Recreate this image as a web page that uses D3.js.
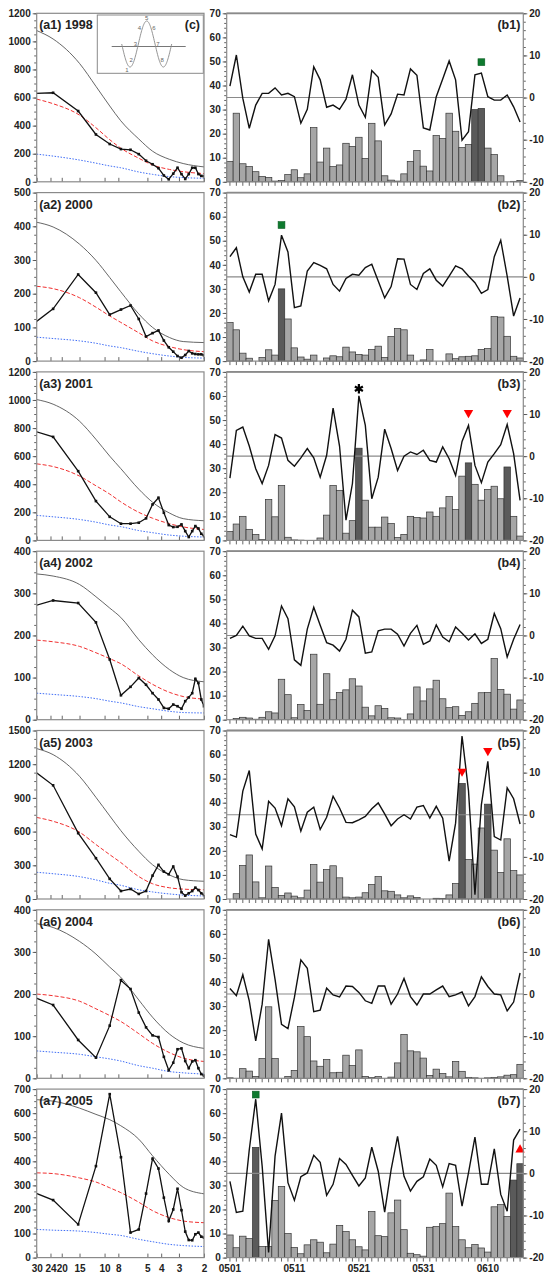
<!DOCTYPE html>
<html>
<head>
<meta charset="utf-8">
<script src="https://cdn.jsdelivr.net/npm/d3@7"></script>
<style>
body { margin: 0; background: #fff; }
svg text { font-family: "Liberation Sans", Arial, sans-serif; font-weight: bold; fill: #222; }
</style>
</head>
<body>
<div id="container"><svg></svg></div>
<script>
// ---- data ----
const years = ['1998', '2000', '2001', '2002', '2003', '2004', '2005'];
const specMax = [1200, 500, 1200, 400, 1500, 400, 700];
const specStep = [200, 100, 200, 100, 300, 100, 100];
const periodTicks = [30, 24, 20, 15, 10, 8, 5, 4, 3, 2];
// periods of the spectral estimates (46-day record)
const periods = [46, 23, 15.33, 11.5, 9.2, 7.67, 6.57, 5.75, 5.11, 4.6, 4.18, 3.83, 3.54, 3.29, 3.07, 2.88, 2.71, 2.56, 2.42, 2.3, 2.19, 2.09, 2];
const curvePeriods = [30, 23, 15, 11.5, 9.2, 7.7, 5.75, 4.6, 3.5, 2.8, 2];

const power1998 = [625, 634, 504, 337, 269, 233, 228, 197, 150, 125, 97, 45, 18, 58, 100, 55, 20, 55, 100, 100, 55, 42, 40];
const power2000 = [58, 155, 257, 203, 138, 153, 165, 125, 73, 83, 91, 61, 41, 28, 15, 10, 18, 30, 23, 21, 20, 20, 17];
const power2001 = [831, 737, 493, 280, 168, 119, 119, 126, 157, 256, 304, 197, 109, 95, 97, 114, 66, 24, 66, 102, 85, 47, 31];
const power2002 = [254, 283, 277, 231, 143, 58, 78, 99, 83, 63, 48, 28, 26, 36, 32, 26, 44, 53, 63, 97, 87, 48, 32];
const power2003 = [1300, 1012, 586, 363, 179, 71, 89, 45, 71, 208, 304, 244, 220, 289, 199, 60, 30, 51, 71, 101, 80, 51, 36];
const power2004 = [216, 174, 91, 49, 125, 233, 212, 156, 121, 102, 98, 51, 19, 37, 69, 71, 41, 24, 40, 43, 24, 10, 6];
const power2005 = [310, 239, 138, 380, 679, 417, 104, 117, 266, 411, 370, 249, 152, 200, 286, 197, 108, 73, 72, 97, 104, 87, 83];

const upper1998 = [1077, 1017, 843, 680, 540, 435, 305, 218, 160, 130, 106];
const upper2000 = [412, 398, 347, 299, 248, 206, 140, 100, 70, 58, 55];
const upper2001 = [1003, 970, 849, 720, 600, 512, 365, 272, 195, 155, 140];
const upper2002 = [346, 341, 321, 292, 265, 243, 190, 154, 119, 100, 90];
const upper2003 = [1339, 1285, 1092, 905, 740, 610, 425, 305, 214, 172, 158];
const upper2004 = [367, 358, 325, 295, 264, 240, 186, 145, 105, 84, 71];
const upper2005 = [656, 650, 621, 595, 573, 548, 492, 423, 345, 292, 265];

const red1998 = [589, 556, 475, 385, 300, 240, 168, 120, 88, 72, 58];
const red2000 = [222, 215, 188, 160, 134, 115, 84, 60, 43, 34, 28];
const red2001 = [545, 526, 458, 389, 330, 275, 200, 158, 119, 96, 78];
const red2002 = [189, 185, 174, 159, 145, 133, 104, 84, 65, 55, 49];
const red2003 = [726, 692, 595, 485, 395, 325, 200, 136, 100, 88, 82];
const red2004 = [200, 196, 183, 165, 149, 135, 106, 83, 61, 48, 40];
const red2005 = [352, 349, 331, 314, 290, 270, 230, 195, 166, 152, 145];

const blue1998 = [197, 183, 155, 133, 113, 100, 70, 53, 37, 30, 25];
const blue2000 = [71, 67, 60, 53, 45, 40, 29, 22, 15, 11, 9];
const blue2001 = [178, 168, 149, 130, 110, 98, 70, 55, 38, 30, 24];
const blue2002 = [63, 60, 55, 50, 44, 40, 31, 26, 20, 17, 16];
const blue2003 = [238, 225, 199, 170, 140, 122, 82, 63, 45, 35, 27];
const blue2004 = [65, 62, 57, 51, 46, 41, 30, 24, 16, 13, 10];
const blue2005 = [117, 114, 110, 104, 97, 92, 76, 66, 55, 50, 46];

const days = ['0501', '0502', '0503', '0504', '0505', '0506', '0507', '0508', '0509', '0510',
    '0511', '0512', '0513', '0514', '0515', '0516', '0517', '0518', '0519', '0520',
    '0521', '0522', '0523', '0524', '0525', '0526', '0527', '0528', '0529', '0530',
    '0531', '0601', '0602', '0603', '0604', '0605', '0606', '0607', '0608', '0609',
    '0610', '0611', '0612', '0613', '0614', '0615'];
const dayLabels = ['0501', '0511', '0521', '0531', '0610'];

const rain1998 = [8.5, 28.5, 7.5, 6.3, 4.2, 2.2, 1.8, 0.3, 0.5, 3, 5, 1.7, 3.3, 22.5, 8.2, 14, 6.3, 7, 16, 14.7, 18.5, 9.7, 24.3, 17, 2.5, 0.7, 0.3, 3.3, 8.5, 13, 6.5, 4.5, 19.2, 18, 28.5, 21, 14.2, 15.5, 30, 30.5, 14, 11.3, 2.5, 0, 0.2, 0.5];
const rain2000 = [16, 13, 3.3, 1.2, 0, 1.5, 4.7, 2.5, 30, 17.5, 5.5, 1.7, 0.8, 2.5, 0, 1.3, 2.2, 1.8, 5.8, 3.8, 2.8, 2.5, 4.8, 6.2, 1.5, 10.2, 13.5, 13, 2.5, 0, 0.5, 4.8, 0, 0, 3, 1, 1.8, 2, 2.2, 4.8, 5.2, 18.5, 18.3, 10.3, 2, 1.3];
const rain2001 = [3.7, 6.8, 10, 4.6, 2.5, 0.4, 17, 9.8, 22.8, 1.3, 0.2, 0.1, 0, 0, 1, 10.5, 22.8, 20.8, 3, 8.2, 38.3, 16.7, 5.5, 5.5, 9.7, 7, 1.2, 2.5, 10, 9.5, 9.3, 11.8, 10, 13.5, 18.2, 12.8, 26.7, 32.2, 23.3, 16.7, 21.2, 22.5, 17.3, 30.5, 10, 1.8];
const rain2002 = [0, 0.5, 1, 0.7, 0.2, 1, 3.3, 2.8, 16.8, 10.4, 0.8, 6.3, 3.8, 27.2, 6.4, 19.1, 8.3, 11.3, 12.4, 17, 14, 5.2, 1.6, 5.8, 4.7, 0.8, 0.7, 0, 2.4, 13.6, 7.8, 12.8, 16.4, 8.7, 5, 5.4, 1.8, 3.3, 6.8, 11.2, 11.3, 25.4, 12.5, 10.6, 4.4, 8.2];
const rain2003 = [0, 2.2, 13.9, 18.3, 7.1, 0.5, 13.7, 4.8, 1.5, 2.5, 1.2, 0.5, 3.7, 14.3, 7, 12.2, 13.8, 8.8, 0.8, 0.5, 0.8, 2.6, 6, 9.3, 3.4, 3.2, 1.7, 0.5, 1.3, 0.6, 0, 0, 0.3, 0.2, 1.7, 6.4, 48, 16.4, 14.5, 29.5, 39.4, 20.3, 11, 25, 11.8, 10];
const rain2004 = [0.2, 0, 4, 3, 0.8, 8.2, 29.7, 8.2, 0, 0.8, 3.3, 21.5, 17.3, 7.2, 5, 7.8, 2.3, 2.5, 9.6, 5.3, 11.8, 0.8, 0.3, 0.7, 0, 0.5, 6.4, 18.2, 11.4, 11, 8.4, 1.2, 3.8, 2, 0.6, 7, 2.9, 0.4, 0.2, 0, 0.2, 0.4, 0.6, 1.3, 1.5, 5.8];
const rain2005 = [9.4, 4.1, 8.9, 7.9, 45.8, 4.6, 4.6, 23.7, 29.6, 10, 4.2, 1.6, 5.3, 7.4, 6.4, 2, 5.6, 13.4, 10.8, 7.4, 4.5, 3.2, 19.1, 9.1, 8.7, 18.6, 23.9, 11.6, 1.8, 1.2, 0.6, 12.6, 12.9, 14.1, 26.8, 12.9, 7.4, 4.1, 5.4, 4.0, 2.3, 21.1, 22, 17.1, 32.2, 39];

const idx1998 = [2.7, 10.1, -0.2, -7.3, -1.8, 1.0, 1.0, 2.3, 0.6, 1.0, 0.2, -6.1, -2.8, 7.3, 4.2, -2.3, -1.8, -2.8, -0.4, 5.4, -1.8, -4.7, 6.4, 4.8, -6.5, -3.9, 0.8, 0.6, 6.8, 5.3, -7.2, -7.7, 0.2, 4.4, 8.7, 4.2, -10.1, -8.1, 5.4, 5.8, 0.2, -0.6, -0.6, 0.6, -2.2, -5.8];
const idx2000 = [4.8, 6.9, 0, -3.6, 0.6, 0.6, -5.7, -1.8, 9.9, 5.9, -7.3, -6.9, 1.4, 3.4, 2.7, 1.9, -1.8, -3.4, -0.4, 0.6, 0.4, 2.2, 3.0, -1.0, -5.0, -2.3, 4.3, 4.2, -1.8, -3.0, 0.8, 1.9, -0.8, -2.2, 0.2, 2.6, 1.9, 0.2, -1.4, -3.9, -3.0, 4.8, 8.7, 0.2, -9.3, -5.0];
const idx2001 = [-5.2, 6.1, 6.9, 2.4, -3.0, -6.5, -2.2, 5.1, 4.3, -1.0, -2.4, -0.4, 1.8, -0.4, -5.0, 0.2, 11.4, 2.4, -15.2, -6.5, 14.3, 7.3, -10.1, -5.0, 6.4, 1.8, -3.4, 0, 1.0, 0.4, 1.4, -1.0, -1.4, 2.2, -0.6, -4.6, 3.5, 7.3, -2.2, -6.3, -1.4, 0.6, 2.7, 7.5, 0.6, -10.5];
const idx2002 = [-0.7, 0, 2.2, -0.1, -0.7, -0.7, -3.3, -0.1, 7.0, 4.0, -5.8, -7.1, 1.5, 6.7, 2.4, -1.7, -2.3, -3.7, -0.9, 6.0, 4.4, -4.2, -3.9, 1.1, 1.5, 1.5, 0.3, -2.5, 0.5, 2.4, -2.1, -1.3, 2.5, -0.4, -1.5, 2.0, 0.5, -1.1, 0.4, -1.9, -0.9, 5.2, 1.6, -5.1, -0.9, 2.6];
const idx2003 = [-4.7, -5.3, 5.6, 10.5, -4.6, -8.1, 3.2, 1.6, -2.6, 3.8, 1.9, -3.9, 0.6, 1.8, -3.5, -0.6, 4.4, 1.6, -1.8, -1.9, -1.2, -0.4, 1.4, 2.8, 0.2, -2.6, -1.0, 0, -1.0, 1.8, 2.2, -0.8, 2.0, -0.8, -11.0, -2.0, 18.7, 5.7, -19.0, 2.4, 12.7, -5.2, -6.0, 6.4, 3.8, -2.2];
const idx2004 = [1.3, -0.4, 4.6, -1.6, -11.1, -2.4, 13.0, 3.5, -7.2, -8.2, -0.8, 8.1, 6.1, -4.2, -3.8, 1.4, -0.2, -0.7, 1.9, 1.8, 0.4, -1.6, -2.2, 1.9, 1.9, -2.4, 0, 3.7, -0.6, -2.6, 0, 0, 1.0, 1.9, -0.6, -0.2, 0.5, -2.8, -0.6, 4.1, 1.8, 0, -0.2, -4.0, -1.9, 5.0];
const idx2005 = [-1.9, -9.3, -9.0, 5.6, 17.6, 1.7, -18.8, 4.1, 14.3, -2.2, -6.4, -0.8, 0.1, 4.3, 2.6, -5.2, -2.6, 3.5, 2.1, -0.5, -3.0, -1.1, 6.2, 0.5, -9.2, 0.9, 8.8, -0.7, -4.2, -1.9, -0.8, 3.4, 1.9, -3.2, 2.3, 1.9, -7.8, 0.1, 8.6, -2.6, -2.6, 5.8, -5.0, -9.0, 7.9, 10.5];

const dark1998 = [38, 39];
const dark2000 = [8];
const dark2001 = [20, 37, 43];
const dark2002 = [];
const dark2003 = [36, 40];
const dark2004 = [];
const dark2005 = [4, 44, 45];

// markers: panel, kind, day index, value on right axis
const marks = [
    {panel: 0, kind: 'square', day: 39, value: 8.4},
    {panel: 1, kind: 'square', day: 8, value: 12.3},
    {panel: 2, kind: 'asterisk', day: 20, value: 16.0},
    {panel: 2, kind: 'down', day: 37, value: 10.3},
    {panel: 2, kind: 'down', day: 43, value: 10.3},
    {panel: 4, kind: 'down', day: 36, value: 10.3},
    {panel: 4, kind: 'down', day: 40, value: 15.2},
    {panel: 6, kind: 'square', day: 4, value: 18.7},
    {panel: 6, kind: 'up', day: 45, value: 5.6}
];

const powers = [power1998, power2000, power2001, power2002, power2003, power2004, power2005];
const uppers = [upper1998, upper2000, upper2001, upper2002, upper2003, upper2004, upper2005];
const reds = [red1998, red2000, red2001, red2002, red2003, red2004, red2005];
const blues = [blue1998, blue2000, blue2001, blue2002, blue2003, blue2004, blue2005];
const rains = [rain1998, rain2000, rain2001, rain2002, rain2003, rain2004, rain2005];
const idxs = [idx1998, idx2000, idx2001, idx2002, idx2003, idx2004, idx2005];
const darks = [dark1998, dark2000, dark2001, dark2002, dark2003, dark2004, dark2005];

// ---- layout ----
let width = 545, height = 1274;
let top0 = 13.3, step = 179.3, ph = 168.5;
let L0 = 36.7, L1 = 204, R0 = 226.7, R1 = 523.3;
let axisColor = '#555';
let frameColor = '#8a8a8a';

let svg = d3.select('#container').select('svg')
    .attr('width', width)
    .attr('height', height);

function style_axis(sel, fs) {
    sel.select('.domain').remove();
    sel.selectAll('line').attr('stroke', axisColor).attr('stroke-width', 0.9);
    sel.selectAll('text').attr('font-size', fs || 10).attr('fill', '#222')
        .attr('font-family', '"Liberation Sans", Arial, sans-serif').attr('font-weight', 'bold');
}

function draw_left(i) {
    let g = svg.append('g').attr('transform', `translate(0, ${top0 + i * step})`);
    let x = d3.scaleLog().domain([30, 2]).range([L0, L1]);
    let y = d3.scaleLinear().domain([0, specMax[i]]).range([ph, 0]);

    g.append('clipPath').attr('id', 'clipA' + i)
        .append('rect').attr('x', L0).attr('y', 0).attr('width', L1 - L0).attr('height', ph);

    // y axis minor + major
    g.append('g').attr('transform', `translate(${L0}, 0)`)
        .call(d3.axisLeft(y).tickValues(d3.range(0, specMax[i] + 0.01, specStep[i] / 4)).tickSize(2.5).tickFormat(''))
        .call(s => style_axis(s));
    g.append('g').attr('transform', `translate(${L0}, 0)`)
        .call(d3.axisLeft(y).tickValues(d3.range(0, specMax[i] + 0.01, specStep[i])).tickSize(4).tickPadding(2)
            .tickFormat(d => d))
        .call(s => style_axis(s));

    // x axis (ticks pointing inward)
    g.append('g').attr('transform', `translate(0, ${ph})`)
        .call(d3.axisBottom(x).tickValues(periodTicks).tickSize(-4).tickPadding(7)
            .tickFormat(i === 6 ? (d => d) : ''))
        .call(s => style_axis(s));

    let plot = g.append('g').attr('clip-path', `url(#clipA${i})`);

    let cl = d3.line().x((d, k) => x(curvePeriods[k])).y(d => y(d)).curve(d3.curveMonotoneX);
    plot.append('path').datum(blues[i]).attr('d', cl)
        .attr('fill', 'none').attr('stroke', '#3f6df5').attr('stroke-width', 1)
        .attr('stroke-dasharray', '1.5,1.5');
    plot.append('path').datum(reds[i]).attr('d', cl)
        .attr('fill', 'none').attr('stroke', '#f03030').attr('stroke-width', 1)
        .attr('stroke-dasharray', '4,2');
    plot.append('path').datum(uppers[i]).attr('d', cl)
        .attr('fill', 'none').attr('stroke', '#555').attr('stroke-width', 0.9);

    let pl = d3.line().x((d, k) => x(periods[k])).y(d => y(d));
    plot.append('path').datum(powers[i]).attr('d', pl)
        .attr('fill', 'none').attr('stroke', '#111').attr('stroke-width', 1.3);
    plot.selectAll('rect.dot')
        .data(powers[i])
        .enter()
        .append('rect')
        .attr('class', 'dot')
        .attr('x', (d, k) => x(periods[k]) - 1.3)
        .attr('y', d => y(d) - 1.3)
        .attr('width', 2.6)
        .attr('height', 2.6)
        .attr('fill', '#111');

    g.append('rect').attr('x', L0).attr('y', 0).attr('width', L1 - L0).attr('height', ph)
        .attr('fill', 'none').attr('stroke', frameColor).attr('stroke-width', 1.2);

    g.append('text')
        .attr('x', L0 + 2.5).attr('y', 16)
        .attr('font-size', 12.5)
        .text(`(a${i + 1}) ${years[i]}`);
}

function draw_inset() {
    // schematic of one oscillation (c)
    let g = svg.append('g');
    g.append('rect').attr('x', 97.3).attr('y', 15).attr('width', 106).attr('height', 58.3)
        .attr('fill', '#fff').attr('stroke', frameColor).attr('stroke-width', 1);
    g.append('text').attr('x', 200).attr('y', 28.5).attr('text-anchor', 'end')
        .attr('font-size', 12.5).text('(c)');
    let ph_ = d3.scaleLinear().domain([0, 3 * Math.PI]).range([121.7, 171.7]);
    let yy = d3.scaleLinear().domain([-1, 1]).range([67, 21]);
    g.append('line').attr('x1', 111.7).attr('x2', 185.7).attr('y1', 46.5).attr('y2', 46.5)
        .attr('stroke', '#777').attr('stroke-width', 1.1);
    let pts = d3.range(0, 3 * Math.PI + 0.001, Math.PI / 40);
    g.append('path').datum(pts)
        .attr('d', d3.line().x(t => ph_(t)).y(t => yy(-Math.sin(t))))
        .attr('fill', 'none').attr('stroke', '#888').attr('stroke-width', 0.9);
    let nums = d3.range(8);
    g.selectAll('text.num').data(nums).enter().append('text')
        .attr('class', 'num')
        .attr('x', j => ph_(Math.PI / 2 + j * Math.PI / 4) + (j === 0 ? -3 : j < 4 ? -3 : j === 4 ? 0 : 3))
        .attr('y', j => yy(-Math.sin(Math.PI / 2 + j * Math.PI / 4)) + (j === 0 ? 5 : j === 4 ? -1.5 : 2))
        .attr('text-anchor', 'middle')
        .attr('font-size', 6)
        .style('font-weight', 'normal')
        .style('fill', '#666')
        .text(j => j + 1);
}

function draw_right(i) {
    let g = svg.append('g').attr('transform', `translate(0, ${top0 + i * step})`);
    let x = d3.scaleBand().domain(days).range([R0, R1]).padding(0);
    let yl = d3.scaleLinear().domain([0, 70]).range([ph, 0]);
    let yr = d3.scaleLinear().domain([-20, 20]).range([ph, 0]);
    let bw = x.bandwidth();

    // left axis
    g.append('g').attr('transform', `translate(${R0}, 0)`)
        .call(d3.axisLeft(yl).tickValues(d3.range(0, 70.01, 2)).tickSize(2.5).tickFormat(''))
        .call(s => style_axis(s));
    g.append('g').attr('transform', `translate(${R0}, 0)`)
        .call(d3.axisLeft(yl).tickValues(d3.range(0, 70.01, 10)).tickSize(4).tickPadding(2))
        .call(s => style_axis(s));
    // right axis
    g.append('g').attr('transform', `translate(${R1}, 0)`)
        .call(d3.axisRight(yr).tickValues(d3.range(-20, 20.01, 2)).tickSize(2.5).tickFormat(''))
        .call(s => style_axis(s));
    g.append('g').attr('transform', `translate(${R1}, 0)`)
        .call(d3.axisRight(yr).tickValues(d3.range(-20, 20.01, 10)).tickSize(4).tickPadding(2)
            .tickFormat(d => d))
        .call(s => style_axis(s));
    // bottom axis
    g.append('g').attr('transform', `translate(0, ${ph})`)
        .call(d3.axisBottom(x).tickSize(4).tickPadding(3)
            .tickFormat(d => (i === 6 && dayLabels.includes(d)) ? d : ''))
        .call(s => style_axis(s));

    // bars
    g.append('g')
        .selectAll('rect')
        .data(rains[i])
        .enter()
        .append('rect')
        .attr('x', (d, k) => x(days[k]))
        .attr('y', d => yl(d))
        .attr('width', bw)
        .attr('height', d => ph - yl(d))
        .attr('fill', (d, k) => darks[i].includes(k) ? '#5a5a5a' : '#a6a6a6')
        .attr('stroke', '#333')
        .attr('stroke-width', 0.7);

    // zero line
    g.append('line').attr('x1', R0).attr('x2', R1).attr('y1', yr(0)).attr('y2', yr(0))
        .attr('stroke', '#8a8a8a').attr('stroke-width', 1.1);

    // index line
    g.append('path').datum(idxs[i])
        .attr('d', d3.line().x((d, k) => x(days[k]) + bw / 2).y(d => yr(d)))
        .attr('fill', 'none').attr('stroke', '#111').attr('stroke-width', 1.4)
        .attr('stroke-linejoin', 'miter');

    // markers
    marks.filter(m => m.panel === i).forEach(m => {
        let cx = x(days[m.day]) + bw / 2, cy = yr(m.value);
        if (m.kind === 'square') {
            g.append('rect').attr('x', cx - 3.4).attr('y', cy - 3.4).attr('width', 6.8).attr('height', 6.8)
                .attr('fill', '#0e7a2e').attr('stroke', '#0a5c22').attr('stroke-width', 0.6);
        } else if (m.kind === 'down' || m.kind === 'up') {
            g.append('path')
                .attr('d', d3.symbol(d3.symbolTriangle, 38)())
                .attr('transform', `translate(${cx}, ${cy}) rotate(${m.kind === 'down' ? 180 : 0})`)
                .attr('fill', '#ff0000');
        } else {
            g.append('path')
                .attr('d', d3.symbol(d3.symbolAsterisk, 60)())
                .attr('transform', `translate(${cx}, ${cy})`)
                .attr('fill', 'none').attr('stroke', '#000').attr('stroke-width', 2.2);
        }
    });

    // frame
    g.append('rect').attr('x', R0).attr('y', 0).attr('width', R1 - R0).attr('height', ph)
        .attr('fill', 'none').attr('stroke', frameColor).attr('stroke-width', 1.2);
    g.append('line').attr('x1', R0).attr('x2', R1).attr('y1', 0).attr('y2', 0)
        .attr('stroke', frameColor).attr('stroke-width', 1.8);

    g.append('text')
        .attr('x', R1 - 3).attr('y', 16)
        .attr('text-anchor', 'end')
        .attr('font-size', 12.5)
        .text(`(b${i + 1})`);
}

function main() {
    for (let i = 0; i < 7; i++) {
        draw_left(i);
        draw_right(i);
    }
    draw_inset();
}

main();
</script>
</body>
</html>
